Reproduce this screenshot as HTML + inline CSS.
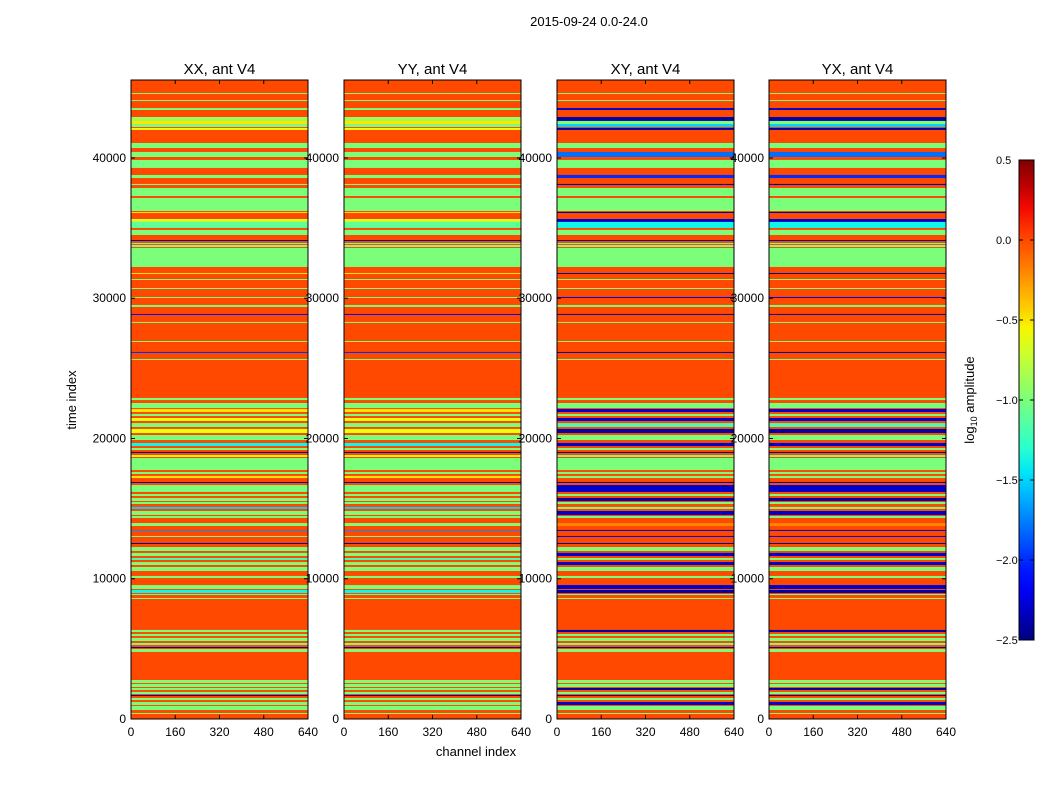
<!DOCTYPE html>
<html><head><meta charset="utf-8"><style>
body{margin:0;background:#fff;font-family:"Liberation Sans",sans-serif;}
svg text{font-family:"Liberation Sans",sans-serif;fill:#000;}
</style></head><body>
<svg id="c" width="1050" height="800" xmlns="http://www.w3.org/2000/svg">
<defs><linearGradient id="jetg" x1="0" y1="1" x2="0" y2="0"></linearGradient></defs>
<text x="589" y="26" font-size="13" text-anchor="middle">2015-09-24 0.0-24.0</text>
<text x="476" y="756" font-size="13" text-anchor="middle">channel index</text>
<text x="76" y="400" font-size="13" text-anchor="middle" transform="rotate(-90 76 400)">time index</text>
<text x="974" y="400" font-size="13" text-anchor="middle" transform="rotate(-90 974 400)">log<tspan font-size="9" dy="3">10</tspan><tspan dy="-3"> amplitude</tspan></text>
</svg>
<script>
const panelTitles=["XX, ant V4","YY, ant V4","XY, ant V4","YX, ant V4"];
const xTicks=[0,160,320,480,640];
const yTicks=[0,10000,20000,30000,40000];
const cbTicks=[0.5,0.0,-0.5,-1.0,-1.5,-2.0,-2.5];
const baseValue=0.0;
const bandStart=[44560,44060,43420,42640,42420,42210,42000,40710,40070,39290,38570,38070,37290,36220,36080,35440,35010,34510,34080,33870,33650,32230,31730,31300,30660,30020,29380,28810,28240,26880,26100,25600,22740,22170,21890,21600,21250,20820,20390,19890,19460,19180,18970,18680,17750,17470,17180,16830,16190,15900,15540,15330,14980,14550,14330,13760,13410,12980,12480,11980,11620,11340,10980,10550,10050,9270,8980,8840,8560,6200,5920,5560,5280,5060,4780,2570,2280,2070,1780,1640,1350,1000,640,360];
const bandEnd=[44630,44130,43560,42920,42640,42420,42140,41070,40430,39860,38790,38150,37860,37150,36150,35650,35440,34870,34150,33940,33800,33580,31800,31370,30730,30090,29520,28880,28310,26950,26170,25670,22890,22530,22100,21750,21460,21100,20680,20250,19680,19320,19040,18820,18610,17610,17330,16900,16680,16040,15760,15470,15120,14830,14470,13970,13480,13050,12550,12260,11840,11480,11190,10840,10200,9550,9200,8910,8630,6350,6060,5780,5420,5130,4990,2780,2500,2210,1930,1710,1500,1210,930,430];
const valueXX=[-1,-1,-1,-0.9,-0.5,-1,-0.6,-1,-1,-1,-1,-1,-1,-1,-0.5,-0.7,-1.1,-1,-2.4,-1,-1,-1,-0.5,-1,-1,-1,-1,-2.2,-1,-1,-2,-1,-1,-1,-0.5,-1,-0.6,-1,-0.6,-1,-1.4,-1,-2.4,-0.6,-1,-1,-0.5,-2.4,-1,-1,-1,-1,-1.5,-1,-1,-1,-1.7,-1,-2.4,-1,-1,-1.2,-1,-1,-1,-1,-1.4,-1,-1,-1,-1,-1,-1,-2.4,-1,-1,-1,-1,-1,-2.4,-1,-1,-1,-1];
const valueXY=[-1,-1,-2.3,-2.4,-1,-1.5,-2.4,-1,-1.8,-1,-2,-2.4,-1,-1,-2.4,-2.3,-1.4,-1,-2.4,-1,-1,-1,-2.5,-1,-1,-2.3,-1,-2.4,-1,-1,-2.4,-1,-1,-1,-2.3,-1,-2.3,-1.2,-2.4,-1,-2.3,-1,-2.5,-1,-1,-1,-1,-2.4,-2.3,-1,-2.4,-1,-1,-2.3,-1,-0.2,-2.3,-2.3,-2.4,-1,-2.3,-1,-2.3,-1,-1,-2.3,-2.4,-1,-1,-2.4,-1,-1,-1,-2.4,-1,-1,-1,-2.4,-1,-2.5,-1,-2.3,-1,-1];
const panelValues=[valueXX,valueXX,valueXY,valueXY];

const vmin=-2.5,vmax=0.5;
function interp(pts,x){for(let i=1;i<pts.length;i++){if(x<=pts[i][0]){const a=pts[i-1],b=pts[i];return a[1]+(b[1]-a[1])*(x-a[0])/(b[0]-a[0]);}}return pts[pts.length-1][1];}
function jet(v){let x=(v-vmin)/(vmax-vmin);x=Math.max(0,Math.min(1,x));
const r=interp([[0,0],[0.35,0],[0.66,1],[0.89,1],[1,0.5]],x);
const g=interp([[0,0],[0.125,0],[0.375,1],[0.64,1],[0.91,0],[1,0]],x);
const b=interp([[0,0.5],[0.11,1],[0.34,1],[0.65,0],[1,0]],x);
return `rgb(${Math.round(r*255)},${Math.round(g*255)},${Math.round(b*255)})`;}

const NS="http://www.w3.org/2000/svg";
const svg=document.getElementById('c');
function mk(tag,attrs,parent){const e=document.createElementNS(NS,tag);for(const k in attrs)e.setAttribute(k,attrs[k]);(parent||svg).appendChild(e);return e;}

const panelX=[131,344,557,769],pw=177,plotTop=80,plotBot=719,tMax=45560,chMax=640;
function ys(t){return plotBot-(t/tMax)*(plotBot-plotTop);}
function xs(p,c){return panelX[p]+c/chMax*pw;}

panelTitles.forEach((title,p)=>{
  const g=mk('g',{});
  
  
  const bg=mk('rect',{x:panelX[p],y:plotTop,width:pw,height:plotBot-plotTop,fill:jet(baseValue)},g);
  
  
  const vals=panelValues[p];
  for(let i=0;i<bandStart.length;i++){
    const y1=ys(bandEnd[i]),y2=ys(bandStart[i]);
    const r=mk('rect',{x:xs(p,0),y:y1,width:xs(p,chMax)-xs(p,0),height:Math.max(1,y2-y1),fill:jet(vals[i])},g);
    
    
  }
  const fr=mk('rect',{x:panelX[p],y:plotTop,width:pw,height:plotBot-plotTop,fill:'none',stroke:'#000','stroke-width':1},g);
  
  
  const tt=mk('text',{x:panelX[p]+pw/2,y:74,'font-size':15,'text-anchor':'middle'},g);
  tt.textContent=title;
  
  
  xTicks.forEach(v=>{const x=xs(p,v);
    mk('line',{x1:x,x2:x,y1:plotBot,y2:plotBot-4,stroke:'#000'},g);
    mk('line',{x1:x,x2:x,y1:plotTop,y2:plotTop+4,stroke:'#000'},g);
    const t=mk('text',{x:x,y:736,'font-size':12,'text-anchor':'middle'},g);t.textContent=v;
    
    });
  yTicks.forEach(v=>{const y=ys(v);
    mk('line',{x1:panelX[p],x2:panelX[p]+4,y1:y,y2:y,stroke:'#000'},g);
    mk('line',{x1:panelX[p]+pw,x2:panelX[p]+pw-4,y1:y,y2:y,stroke:'#000'},g);
    const t=mk('text',{x:panelX[p]-5,y:y+4,'font-size':12,'text-anchor':'end'},g);t.textContent=v;
    
    });
});

const grad=document.getElementById('jetg');
for(let i=0;i<=20;i++){const v=vmin+(vmax-vmin)*i/20;mk('stop',{offset:(i/20),'stop-color':jet(v)},grad);}
const cbX=1019,cbW=15,cbTop=160,cbBot=640;
function cy(v){return cbBot-(v-vmin)/(vmax-vmin)*(cbBot-cbTop);}
const cb=mk('rect',{x:cbX,y:cbTop,width:cbW,height:cbBot-cbTop,fill:'url(#jetg)',stroke:'#000'});


cbTicks.forEach(v=>{const y=cy(v);
  mk('line',{x1:cbX+cbW,x2:cbX+cbW-4,y1:y,y2:y,stroke:'#000'});
  mk('line',{x1:cbX,x2:cbX+4,y1:y,y2:y,stroke:'#000'});
  const t=mk('text',{x:996,y:y+4,'font-size':11,'text-anchor':'start'});
  t.textContent=v.toFixed(1).replace('-','\u2212');
  
  });
</script>
</body></html>
